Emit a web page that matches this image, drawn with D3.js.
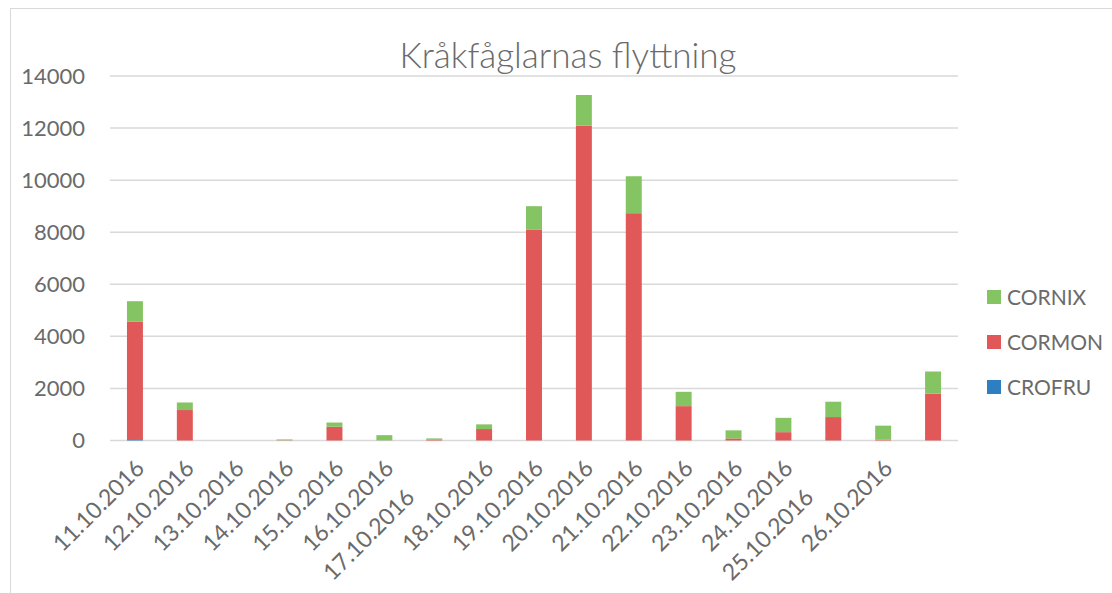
<!DOCTYPE html>
<html>
<head>
<meta charset="utf-8">
<script src="https://cdn.jsdelivr.net/npm/d3@7"></script>
<style>
  body { margin: 0; background: #fff; }
  text { font-family: "Liberation Sans Narrow", Lato, "Liberation Sans", sans-serif; fill: #6a6a6a; }
</style>
</head>
<body>
<div id="myChart"></div>
<script>
let svgW = 1112;
let svgH = 593;

// data
const dates = ["11.10.2016", "12.10.2016", "13.10.2016", "14.10.2016", "15.10.2016", "16.10.2016",
  "17.10.2016", "18.10.2016", "19.10.2016", "20.10.2016", "21.10.2016", "22.10.2016",
  "23.10.2016", "24.10.2016", "25.10.2016", "26.10.2016", ""];
const crofru = [20, 0, 0, 0, 0, 0, 0, 0, 0, 0, 0, 0, 0, 0, 0, 0, 0];
const cormon = [4550, 1170, 0, 10, 530, 5, 40, 440, 8090, 12090, 8730, 1320, 80, 320, 900, 30, 1800];
const cornix = [780, 290, 0, 30, 160, 200, 40, 180, 910, 1180, 1420, 550, 310, 550, 590, 540, 850];
const seriesNames = ["CROFRU", "CORMON", "CORNIX"];
const yTicks = [0, 2000, 4000, 6000, 8000, 10000, 12000, 14000];
const colors = { CROFRU: "#2e7fc2", CORMON: "#e15858", CORNIX: "#84c462" };

// labels that sit lower in the original (longer cell text)
const pushedDown = ["17.10.2016", "25.10.2016"];

let rows = dates.map((d, i) => ({ date: i + "|" + d, CROFRU: crofru[i], CORMON: cormon[i], CORNIX: cornix[i] }));

let svg = d3.select("#myChart").append("svg")
  .attr("width", svgW)
  .attr("height", svgH);

// chart border
svg.append("rect")
  .attr("x", 10.5).attr("y", 8.5)
  .attr("width", svgW + 20).attr("height", svgH + 20)
  .attr("fill", "none").attr("stroke", "#d9d9d9").attr("stroke-width", 1);

let x = d3.scaleBand()
  .domain(rows.map(r => r.date))
  .range([110, 958])
  .paddingInner(0.68)
  .paddingOuter(0.34);

let y = d3.scaleLinear()
  .domain([0, 14000])
  .range([440.5, 76]);

// gridlines
svg.append("g")
  .selectAll("line")
  .data(yTicks)
  .enter()
  .append("line")
  .attr("x1", 110).attr("x2", 958)
  .attr("y1", d => y(d)).attr("y2", d => y(d))
  .attr("stroke", "#d9d9d9")
  .attr("stroke-width", 1.5);

// y axis labels
let yAxis = svg.append("g")
  .attr("transform", "translate(88,0)")
  .call(d3.axisLeft(y).tickValues(yTicks).tickSize(0).tickPadding(3).tickFormat(d3.format("d")));
yAxis.select(".domain").remove();
yAxis.selectAll("text")
  .style("font-size", "22px")
  .attr("fill", "#6a6a6a");

// stacked bars
let stack = d3.stack().keys(seriesNames)(rows);

svg.append("g")
  .selectAll("g")
  .data(stack)
  .enter()
  .append("g")
  .attr("fill", s => colors[s.key])
  .selectAll("rect")
  .data(s => s)
  .enter()
  .append("rect")
  .attr("x", d => x(d.data.date))
  .attr("width", x.bandwidth())
  .attr("y", d => y(d[1]))
  .attr("height", d => Math.max(0, y(d[0]) - y(d[1])));

// x axis labels
let xAxis = svg.append("g")
  .attr("transform", "translate(0,440)")
  .call(d3.axisBottom(x).tickSize(0).tickFormat(d => d.split("|")[1]));
xAxis.select(".domain").remove();
xAxis.selectAll("text")
  .style("font-size", "23px")
  .attr("fill", "#6a6a6a")
  .attr("text-anchor", "end")
  .attr("y", 0)
  .attr("dy", "0.35em")
  .attr("transform", "translate(5,24) rotate(-45)")
  .attr("dx", d => pushedDown.includes(d.split("|")[1]) ? -41 : 0);

// title
svg.append("text")
  .attr("x", 568)
  .attr("y", 68)
  .attr("text-anchor", "middle")
  .attr("textLength", 337)
  .attr("lengthAdjust", "spacingAndGlyphs")
  .style("font-size", "35px")
  .style("font-weight", 300)
  .attr("fill", "#6a6a6a")
  .text("Kråkfåglarnas flyttning");

// legend
let legendOrder = ["CORNIX", "CORMON", "CROFRU"];
let legend = svg.append("g")
  .selectAll("g")
  .data(legendOrder)
  .enter()
  .append("g")
  .attr("transform", (d, i) => "translate(987," + (297 + i * 45) + ")");

legend.append("rect")
  .attr("x", 0).attr("y", -7)
  .attr("width", 14).attr("height", 14)
  .attr("fill", d => colors[d]);

legend.append("text")
  .attr("x", 20)
  .attr("dy", "0.36em")
  .style("font-size", "21px")
  .attr("fill", "#6a6a6a")
  .text(d => d);
</script>
</body>
</html>
